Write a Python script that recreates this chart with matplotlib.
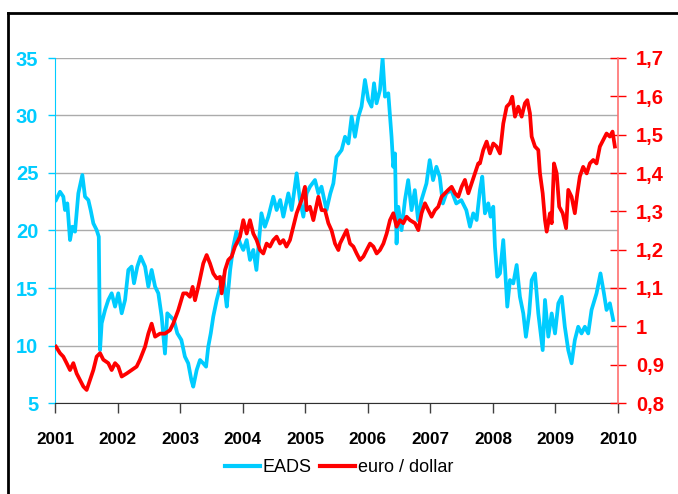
import matplotlib
matplotlib.use("Agg")
import matplotlib.pyplot as plt
from matplotlib.lines import Line2D

plt.rcParams['font.family'] = ['Liberation Sans', 'DejaVu Sans']

# ---------------- data ----------------
eads_years = [2001.016, 2001.08, 2001.133, 2001.16, 2001.197, 2001.24, 2001.277, 2001.32, 2001.373, 2001.437,
              2001.48, 2001.533, 2001.57, 2001.613, 2001.666, 2001.70, 2001.72, 2001.746, 2001.8, 2001.852,
              2001.906, 2001.96, 2002.012, 2002.066, 2002.12, 2002.172, 2002.225, 2002.263, 2002.316, 2002.37,
              2002.44, 2002.492, 2002.545, 2002.6, 2002.652, 2002.705, 2002.758, 2002.795, 2002.848, 2002.9,
              2002.955, 2003.02, 2003.077, 2003.13, 2003.18, 2003.21, 2003.265, 2003.318, 2003.37, 2003.415,
              2003.45, 2003.49, 2003.53, 2003.585, 2003.64, 2003.69, 2003.72, 2003.746, 2003.8, 2003.85,
              2003.9, 2003.958, 2004.01, 2004.064, 2004.117, 2004.17, 2004.22, 2004.3, 2004.355, 2004.41,
              2004.49, 2004.543, 2004.6, 2004.65, 2004.73, 2004.783, 2004.863, 2004.916, 2004.97, 2005.023,
              2005.076, 2005.156, 2005.21, 2005.26, 2005.34, 2005.40, 2005.45, 2005.5, 2005.582, 2005.636,
              2005.69, 2005.742, 2005.795, 2005.85, 2005.9, 2005.955, 2006.008, 2006.06, 2006.1, 2006.14,
              2006.195, 2006.237, 2006.275, 2006.328, 2006.355, 2006.38, 2006.408, 2006.435, 2006.46, 2006.488,
              2006.54, 2006.594, 2006.646, 2006.7, 2006.752, 2006.805, 2006.858, 2006.938, 2006.99, 2007.044,
              2007.097, 2007.15, 2007.2, 2007.255, 2007.335, 2007.415, 2007.495, 2007.575, 2007.634, 2007.686,
              2007.74, 2007.793, 2007.83, 2007.873, 2007.926, 2007.963, 2008.006, 2008.033, 2008.07, 2008.113,
              2008.166, 2008.193, 2008.23, 2008.273, 2008.326, 2008.38, 2008.432, 2008.486, 2008.528, 2008.58,
              2008.62, 2008.673, 2008.726, 2008.796, 2008.833, 2008.886, 2008.94, 2008.993, 2009.046, 2009.1,
              2009.15, 2009.205, 2009.258, 2009.31, 2009.364, 2009.417, 2009.47, 2009.524, 2009.577, 2009.657,
              2009.72, 2009.775, 2009.817, 2009.87, 2009.924]
eads_values = [22.65, 23.37, 22.94, 21.78, 22.36, 19.17, 20.33, 19.9, 23.23, 24.83,
               22.94, 22.65, 21.78, 20.62, 20.04, 19.46, 9.6, 11.93, 13.09, 13.96,
               14.54, 13.38, 14.54, 12.8, 13.96, 16.57, 16.86, 15.41, 16.86, 17.73,
               16.86, 15.12, 16.57, 15.12, 14.54, 12.51, 9.3, 12.8, 12.51, 12.22,
               11.06, 10.48, 9.03, 8.45, 7.0, 6.42, 7.87, 8.74, 8.45, 8.16,
               9.9, 11.06, 12.51, 13.96, 15.12, 15.99, 14.54, 13.38, 16.57, 18.6,
               19.9, 18.89, 18.31, 19.17, 17.44, 18.31, 16.57, 21.5, 20.33, 21.2,
               22.94, 21.78, 22.65, 21.2, 23.23, 21.78, 24.97, 22.65, 21.2, 23.23,
               23.81, 24.39, 23.23, 23.81, 21.78, 23.2, 24.1, 26.4, 27.0, 28.15,
               27.57, 29.9, 28.15, 29.9, 30.77, 33.09, 31.35, 30.77, 32.8, 31.06,
               32.22, 34.97, 31.64, 31.93, 29.9, 28.15, 25.54, 26.7, 18.87, 22.06,
               20.03, 22.64, 24.38, 21.77, 23.51, 20.9, 22.64, 24.09, 26.12, 24.38,
               25.54, 24.67, 22.35, 23.22, 23.51, 22.35, 22.64, 21.77, 20.33, 21.49,
               20.91, 23.52, 24.68, 21.49, 22.36, 21.2, 22.07, 18.59, 15.98, 16.27,
               19.17, 16.85, 13.38, 15.69, 15.4, 17.0, 14.24, 12.79, 10.76, 12.79,
               15.69, 16.27, 12.79, 9.6, 13.96, 10.77, 12.79, 11.05, 13.67, 14.24,
               11.63, 9.6, 8.45, 10.48, 11.63, 11.05, 11.63, 11.05, 13.09, 14.54,
               16.27, 14.54, 13.09, 13.67, 12.22]

eur_years = [2001.016, 2001.08, 2001.133, 2001.186, 2001.24, 2001.293, 2001.346, 2001.4, 2001.453, 2001.506,
             2001.56, 2001.613, 2001.666, 2001.72, 2001.772, 2001.852, 2001.906, 2001.96, 2002.012, 2002.066,
             2002.146, 2002.225, 2002.305, 2002.358, 2002.44, 2002.492, 2002.545, 2002.6, 2002.678, 2002.758,
             2002.838, 2002.89, 2002.97, 2003.05, 2003.104, 2003.157, 2003.2, 2003.238, 2003.29, 2003.37,
             2003.424, 2003.478, 2003.53, 2003.585, 2003.638, 2003.664, 2003.718, 2003.77, 2003.824, 2003.877,
             2003.957, 2004.01, 2004.064, 2004.117, 2004.17, 2004.223, 2004.277, 2004.33, 2004.383, 2004.436,
             2004.49, 2004.543, 2004.596, 2004.65, 2004.7, 2004.756, 2004.81, 2004.863, 2004.943, 2004.996,
             2005.023, 2005.076, 2005.13, 2005.21, 2005.262, 2005.316, 2005.37, 2005.422, 2005.476, 2005.53,
             2005.556, 2005.61, 2005.662, 2005.716, 2005.77, 2005.822, 2005.876, 2005.93, 2005.982, 2006.036,
             2006.09, 2006.142, 2006.195, 2006.25, 2006.302, 2006.355, 2006.408, 2006.46, 2006.515, 2006.568,
             2006.62, 2006.675, 2006.755, 2006.808, 2006.86, 2006.914, 2006.968, 2007.02, 2007.074, 2007.127,
             2007.18, 2007.234, 2007.287, 2007.34, 2007.394, 2007.447, 2007.5, 2007.553, 2007.607, 2007.66,
             2007.713, 2007.766, 2007.793, 2007.846, 2007.9, 2007.953, 2008.006, 2008.06, 2008.113, 2008.166,
             2008.22, 2008.273, 2008.31, 2008.353, 2008.406, 2008.46, 2008.512, 2008.55, 2008.592, 2008.62,
             2008.673, 2008.726, 2008.752, 2008.796, 2008.833, 2008.86, 2008.913, 2008.94, 2008.977, 2009.02,
             2009.06, 2009.116, 2009.17, 2009.205, 2009.258, 2009.31, 2009.35, 2009.39, 2009.443, 2009.5,
             2009.55, 2009.604, 2009.657, 2009.71, 2009.764, 2009.817, 2009.87, 2009.913, 2009.95]
eur_values = [0.947, 0.93, 0.921, 0.904, 0.886, 0.904, 0.877, 0.86, 0.843, 0.834,
              0.86, 0.886, 0.921, 0.93, 0.913, 0.904, 0.886, 0.904, 0.895, 0.869,
              0.877, 0.886, 0.895, 0.913, 0.947, 0.981, 1.007, 0.973, 0.981, 0.981,
              0.99, 1.007, 1.042, 1.086, 1.086, 1.077, 1.103, 1.068, 1.103, 1.164,
              1.186, 1.164, 1.138, 1.125, 1.129, 1.086, 1.147, 1.173, 1.182, 1.208,
              1.234, 1.277, 1.242, 1.277, 1.242, 1.225, 1.199, 1.19, 1.216, 1.208,
              1.225, 1.234, 1.216, 1.225, 1.208, 1.225, 1.26, 1.295, 1.33, 1.364,
              1.303, 1.312, 1.277, 1.338, 1.303, 1.303, 1.269, 1.25, 1.216, 1.199,
              1.216, 1.234, 1.251, 1.216, 1.208, 1.19, 1.173, 1.182, 1.199, 1.216,
              1.208, 1.19, 1.199, 1.216, 1.242, 1.277, 1.295, 1.26, 1.277, 1.269,
              1.286, 1.277, 1.269, 1.251, 1.295, 1.321, 1.303, 1.286, 1.303, 1.312,
              1.338, 1.347, 1.356, 1.364, 1.347, 1.338, 1.364, 1.382, 1.347, 1.373,
              1.399, 1.425, 1.425, 1.46, 1.482, 1.451, 1.477, 1.469, 1.451, 1.529,
              1.573, 1.582, 1.599, 1.547, 1.573, 1.547, 1.582, 1.59, 1.556, 1.495,
              1.469, 1.46, 1.4, 1.347, 1.277, 1.247, 1.295, 1.269, 1.425, 1.399,
              1.312, 1.295, 1.256, 1.356, 1.338, 1.295, 1.347, 1.391, 1.416, 1.399,
              1.425, 1.434, 1.425, 1.469, 1.486, 1.503, 1.495, 1.508, 1.469]

year_ticks = list(range(2001, 2011))
left_ticks = [5, 10, 15, 20, 25, 30, 35]
right_ticks = [0.8, 0.9, 1.0, 1.1, 1.2, 1.3, 1.4, 1.5, 1.6, 1.7]
right_labels = ['0,8', '0,9', '1', '1,1', '1,2', '1,3', '1,4', '1,5', '1,6', '1,7']
series_names = ['EADS', 'euro / dollar']

CYAN = '#00CCFF'
RED = '#FF0000'

# ---------------- figure ----------------
W, H = 678, 494
fig = plt.figure(figsize=(W / 100, H / 100), dpi=100)
ax = fig.add_axes([55 / W, 1 - 403 / H, (618 - 55) / W, (403 - 58) / H])
ax2 = ax.twinx()

l1, = ax.plot(eads_years, eads_values, color=CYAN, lw=2.7, solid_joinstyle='round')
l2, = ax2.plot(eur_years, eur_values, color=RED, lw=2.7, solid_joinstyle='round')

ax.set_xlim(2001, 2010)
ax.set_ylim(5, 35)
ax2.set_ylim(0.8, 1.7)

ax.set_xticks(year_ticks)
ax.set_xticklabels([str(y) for y in year_ticks], fontsize=12.3, fontweight='bold', color='black')
ax.tick_params(axis='x', direction='out', length=7, width=1, color='#404040', pad=14)

ax.set_yticks(left_ticks)
ax.set_yticklabels([str(v) for v in left_ticks], fontsize=14.5, fontweight='bold', color=CYAN)
ax.tick_params(axis='y', direction='out', length=5, width=1, color=CYAN, pad=7)

ax2.set_yticks(right_ticks)
ax2.set_yticklabels(right_labels, fontsize=14.5, fontweight='bold', color=RED)
ax2.tick_params(axis='y', direction='inout', length=12, width=1, color=RED, pad=7)

ax.yaxis.grid(True, color='#ABABAB', lw=1)
ax.set_axisbelow(True)

for a in (ax, ax2):
    a.spines['top'].set_visible(False)
ax.spines['left'].set_color(CYAN)
ax.spines['right'].set_visible(False)
ax.spines['bottom'].set_color('#303030')
ax2.spines['left'].set_visible(False)
ax2.spines['bottom'].set_visible(False)
ax2.spines['right'].set_color('#FF7070')
ax2.spines['right'].set_linewidth(1.2)

leg = fig.legend([l1, l2], series_names, loc='center', bbox_to_anchor=(0.5, 1 - 468 / H),
                 ncol=2, frameon=False, fontsize=13, handlelength=1.95, handletextpad=0.15,
                 columnspacing=0.45)
for h in leg.legend_handles:
    h.set_linewidth(3)

# outer frame (left and top edges visible in the crop)
fig.add_artist(Line2D([8 / W, 8 / W], [0, 1 - 13 / H], transform=fig.transFigure, color='black', lw=2))
fig.add_artist(Line2D([8 / W, 1], [1 - 13 / H, 1 - 13 / H], transform=fig.transFigure, color='black', lw=2))

fig.savefig('out.png', dpi=100)
